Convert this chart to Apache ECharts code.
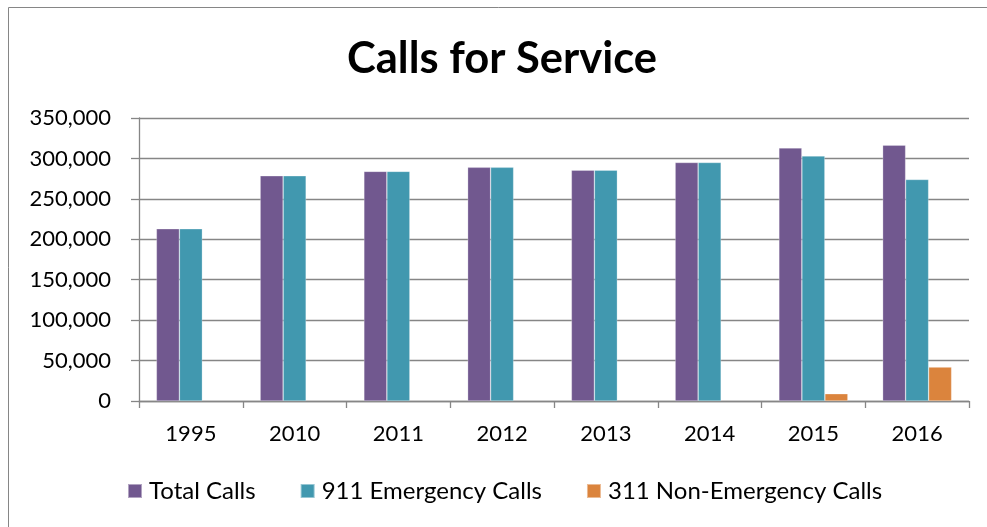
<!DOCTYPE html>
<html>
<head>
<meta charset="utf-8">
<script src="https://cdn.jsdelivr.net/npm/echarts@6/dist/echarts.min.js"></script>
<style>
  html, body { margin: 0; padding: 0; background: #fff; }
  #chart { width: 987px; height: 527px; }
</style>
</head>
<body>
<div id="chart"></div>
<script>
// Calls for service by year
var categories = ['1995', '2010', '2011', '2012', '2013', '2014', '2015', '2016'];
var totalCalls = [213000, 278500, 284000, 289000, 285500, 295000, 313000, 316500];
var emergencyCalls = [213000, 278500, 284000, 289000, 285500, 295000, 303000, 274000];
var nonEmergencyCalls = [null, null, null, null, null, null, 9000, 42000];
var seriesNames = ['Total Calls', '911 Emergency Calls', '311 Non-Emergency Calls'];

var FONT = 'Lato';
var AXIS_GRAY = '#868686';

var chart = echarts.init(document.getElementById('chart'), null, { renderer: 'canvas' });

function barSeries(name, data, color) {
  return {
    name: name,
    type: 'bar',
    data: data,
    barGap: '0%',
    barCategoryGap: '33.5%',
    itemStyle: { color: color, borderColor: 'rgba(255,255,255,0.45)', borderWidth: 0.6 },
    emphasis: { disabled: true }
  };
}

chart.setOption({
  animation: false,
  backgroundColor: '#ffffff',
  title: {
    text: 'Calls for Service',
    left: 497,
    top: 32,
    textAlign: 'center',
    textStyle: { fontFamily: FONT, fontWeight: 'bold', fontSize: 43.5, color: '#000' }
  },
  graphic: [{
    type: 'rect',
    shape: { x: 8.5, y: 7.5, width: 1200, height: 800 },
    style: { fill: 'none', stroke: AXIS_GRAY, lineWidth: 1 },
    silent: true
  }],
  legend: {
    left: 127,
    top: 479,
    padding: 0,
    itemWidth: 14,
    itemHeight: 14,
    itemGap: 44,
    icon: 'rect',
    textStyle: { fontFamily: FONT, fontSize: 24, color: '#000', padding: [0, 0, 0, 2] },
    data: seriesNames
  },
  grid: { left: 139, right: 18, top: 118, bottom: 126, containLabel: false },
  xAxis: {
    type: 'category',
    data: categories,
    axisLine: { show: true, lineStyle: { color: AXIS_GRAY, width: 1.3 } },
    axisTick: { show: true, length: 7, alignWithLabel: false, lineStyle: { color: AXIS_GRAY, width: 1.3 } },
    axisLabel: { fontFamily: FONT, fontSize: 22, color: '#000', margin: 22 },
    splitLine: { show: false }
  },
  yAxis: {
    type: 'value',
    min: 0,
    max: 350000,
    interval: 50000,
    axisLine: { show: true, lineStyle: { color: AXIS_GRAY, width: 1.3 } },
    axisTick: { show: true, length: 8, inside: false, lineStyle: { color: AXIS_GRAY, width: 1.3 } },
    axisLabel: {
      fontFamily: FONT, fontSize: 22, color: '#000', margin: 28,
      formatter: function (v) { return v.toLocaleString('en-US'); }
    },
    splitLine: { show: true, lineStyle: { color: AXIS_GRAY, width: 1.3 } }
  },
  series: [
    barSeries(seriesNames[0], totalCalls, '#71588F'),
    barSeries(seriesNames[1], emergencyCalls, '#4198AF'),
    barSeries(seriesNames[2], nonEmergencyCalls, '#DB843D')
  ]
});
</script>
</body>
</html>
